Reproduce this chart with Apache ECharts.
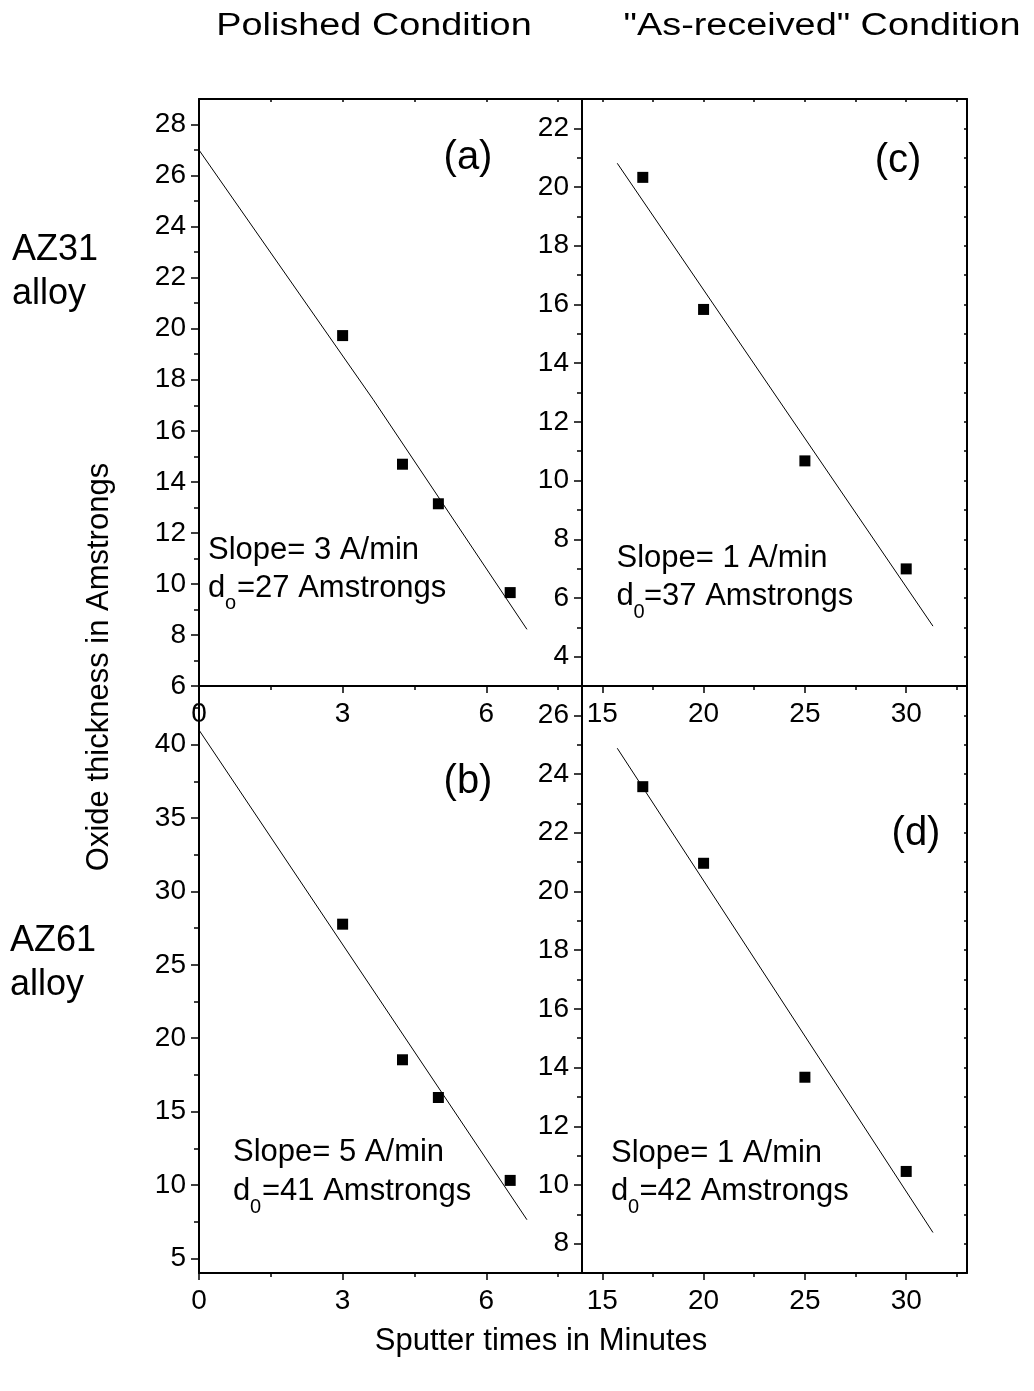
<!DOCTYPE html>
<html>
<head>
<meta charset="utf-8">
<script src="https://cdn.jsdelivr.net/npm/echarts@6/dist/echarts.min.js"></script>
<style>
  html, body { margin: 0; padding: 0; background: #fff; }
  #chart { width: 1034px; height: 1391px; }
</style>
</head>
<body>
<div id="chart"></div>
<script>
// polished samples (a: AZ31, b: AZ61)
var timesPolished = [3, 4.25, 5, 6.5];
var oxideAZ31Polished = [19.73, 14.69, 13.14, 9.66];
var oxideAZ61Polished = [27.77, 18.53, 15.96, 10.31];
// as-received samples (c: AZ31, d: AZ61)
var timesReceived = [17, 20, 25, 30];
var oxideAZ31Received = [20.33, 15.83, 10.67, 6.99];
var oxideAZ61Received = [23.57, 20.96, 13.67, 10.46];

// fitted lines
var fitTimesA = [0, 3.64, 6.85];
var fitOxideA = [27.0, 17.22, 8.22];
var fitTimesB = [0, 6.85];
var fitOxideB = [41.0, 7.63];
var fitTimesC = [15.74, 31.32];
var fitOxideC = [20.81, 5.04];
var fitTimesD = [15.74, 31.32];
var fitOxideD = [24.88, 8.38];

// tick labels
var ticksPolishedX = [0, 3, 6];
var minorPolishedX = [1.5, 4.5, 7.5];
var ticksReceivedX = [15, 20, 25, 30];
var minorReceivedX = [17.5, 22.5, 27.5, 32.5];
var ticksA = [6, 8, 10, 12, 14, 16, 18, 20, 22, 24, 26, 28];
var minorA = [7, 9, 11, 13, 15, 17, 19, 21, 23, 25, 27];
var ticksB = [5, 10, 15, 20, 25, 30, 35, 40];
var minorB = [7.5, 12.5, 17.5, 22.5, 27.5, 32.5, 37.5, 42.5];
var ticksC = [4, 6, 8, 10, 12, 14, 16, 18, 20, 22];
var minorC = [5, 7, 9, 11, 13, 15, 17, 19, 21];
var ticksD = [8, 10, 12, 14, 16, 18, 20, 22, 24, 26];
var minorD = [9, 11, 13, 15, 17, 19, 21, 23, 25];

var FONT = '"Liberation Sans", Arial, Helvetica, sans-serif';

function zip(xs, ys) {
    return xs.map(function (x, i) { return [x, ys[i]]; });
}

function axis(gridIndex, min, max, position, showLine, labelVals, tickVals, tickLen, inside) {
    return {
        type: 'value', gridIndex: gridIndex, min: min, max: max, position: position,
        splitLine: {show: false},
        axisLine: {show: showLine, onZero: false, lineStyle: {color: '#000', width: 2}},
        axisTick: {show: tickVals.length > 0, inside: inside, length: tickLen,
            customValues: tickVals, lineStyle: {color: '#000', width: 1.5}},
        axisLabel: {show: labelVals.length > 0, customValues: labelVals, showMinLabel: true, showMaxLabel: true,
            margin: (position === 'bottom' ? 14 : 13), color: '#000', fontSize: 28, fontFamily: FONT},
        axisPointer: {show: false}
    };
}

var xAxes = [], yAxes = [];
function addX(a) { xAxes.push(a); return xAxes.length - 1; }
function addY(a) { yAxes.push(a); return yAxes.length - 1; }

function allTicks(a, b) { return a.concat(b).sort(function (p, q) { return p - q; }); }

// grid 0: (a), 1: (c), 2: (b), 3: (d)
var xa = addX(axis(0, 0, 8, 'bottom', true, ticksPolishedX, ticksPolishedX, 7, false));
addX(axis(0, 0, 8, 'bottom', false, [], minorPolishedX, 4, false));
addX(axis(0, 0, 8, 'top', true, [], allTicks(ticksPolishedX, minorPolishedX).filter(function (v) { return v > 0; }), 3, true));
var ya = addY(axis(0, 6, 29, 'left', true, ticksA, ticksA, 8, false));
addY(axis(0, 6, 29, 'left', false, [], minorA, 5, false));

var xc = addX(axis(1, 14, 33, 'bottom', true, ticksReceivedX, ticksReceivedX, 7, false));
addX(axis(1, 14, 33, 'bottom', false, [], minorReceivedX, 4, false));
addX(axis(1, 14, 33, 'top', true, [], allTicks(ticksReceivedX, minorReceivedX), 3, true));
var yc = addY(axis(1, 3, 23, 'left', true, ticksC, ticksC, 8, false));
addY(axis(1, 3, 23, 'left', false, [], minorC, 5, false));
addY(axis(1, 3, 23, 'right', true, [], allTicks(ticksC, minorC), 3, true));

var xb = addX(axis(2, 0, 8, 'bottom', true, ticksPolishedX, ticksPolishedX, 7, false));
addX(axis(2, 0, 8, 'bottom', false, [], minorPolishedX, 4, false));
var yb = addY(axis(2, 4, 44, 'left', true, ticksB, ticksB, 8, false));
addY(axis(2, 4, 44, 'left', false, [], minorB, 5, false));

var xd = addX(axis(3, 14, 33, 'bottom', true, ticksReceivedX, ticksReceivedX, 7, false));
addX(axis(3, 14, 33, 'bottom', false, [], minorReceivedX, 4, false));
var yd = addY(axis(3, 7, 27, 'left', true, ticksD, ticksD, 8, false));
addY(axis(3, 7, 27, 'left', false, [], minorD, 5, false));
addY(axis(3, 7, 27, 'right', true, [], allTicks(ticksD, minorD), 3, true));

function points(name, xi, yi, data) {
    return {name: name, type: 'scatter', xAxisIndex: xi, yAxisIndex: yi, data: data,
        symbol: 'rect', symbolSize: 11, itemStyle: {color: '#000', opacity: 1}, silent: true};
}
function fit(name, xi, yi, data) {
    return {name: name, type: 'line', xAxisIndex: xi, yAxisIndex: yi, data: data,
        showSymbol: false, symbol: 'none', lineStyle: {color: '#000', width: 1}, silent: true};
}

function txt(x, y, text, size, opts) {
    var o = opts || {};
    var el = {
        type: 'text', x: x, y: y, silent: true,
        style: {text: text, fontSize: size, fontFamily: FONT, fill: '#000',
            align: o.align || 'left', verticalAlign: 'middle',
            textAlign: o.align || 'left', textVerticalAlign: 'middle'}
    };
    if (o.scaleX) el.scaleX = o.scaleX;
    if (o.rotation) el.rotation = o.rotation;
    return el;
}

// slope annotation: two lines with a subscript on the d
function slopeNote(left, y1, y2, slope, sub, subX, subY, restX, rest) {
    return [
        txt(left, y1, slope, 31),
        txt(left, y2, 'd', 31),
        txt(subX, subY, sub, 20),
        txt(restX, y2, rest, 31)
    ];
}

var graphics = [
    txt(374, 26, 'Polished Condition', 31, {align: 'center', scaleX: 1.22}),
    txt(822, 26, '"As-received" Condition', 31, {align: 'center', scaleX: 1.22}),
    txt(12, 250, 'AZ31', 36),
    txt(12, 294, 'alloy', 36),
    txt(10, 941, 'AZ61', 36),
    txt(10, 985, 'alloy', 36),
    txt(99, 667, 'Oxide thickness in Amstrongs', 31, {align: 'center', rotation: Math.PI / 2}),
    txt(541, 1341, 'Sputter times in Minutes', 31, {align: 'center'}),
    txt(468, 158, '(a)', 40, {align: 'center'}),
    txt(468, 782, '(b)', 40, {align: 'center'}),
    txt(898, 161, '(c)', 40, {align: 'center'}),
    txt(916, 834, '(d)', 40, {align: 'center'})
]
    .concat(slopeNote(208, 550, 588.5, 'Slope= 3 A/min', 'o', 225, 603.5, 237, '=27 Amstrongs'))
    .concat(slopeNote(233, 1152.5, 1191, 'Slope= 5 A/min', '0', 250, 1207, 262, '=41 Amstrongs'))
    .concat(slopeNote(616.5, 558.5, 596.5, 'Slope= 1 A/min', '0', 633.5, 612.8, 644, '=37 Amstrongs'))
    .concat(slopeNote(611, 1153, 1191, 'Slope= 1 A/min', '0', 628, 1207, 639.5, '=42 Amstrongs'));

var chart = echarts.init(document.getElementById('chart'), null, {renderer: 'canvas'});
chart.setOption({
    backgroundColor: '#fff',
    animation: false,
    grid: [
        {left: 199, top: 99, width: 383, height: 587},
        {left: 582, top: 99, width: 385, height: 587},
        {left: 199, top: 686, width: 383, height: 587},
        {left: 582, top: 686, width: 385, height: 587}
    ],
    xAxis: xAxes,
    yAxis: yAxes,
    series: [
        fit('AZ31 polished fit', xa, ya, zip(fitTimesA, fitOxideA)),
        points('AZ31 polished', xa, ya, zip(timesPolished, oxideAZ31Polished)),
        fit('AZ31 as-received fit', xc, yc, zip(fitTimesC, fitOxideC)),
        points('AZ31 as-received', xc, yc, zip(timesReceived, oxideAZ31Received)),
        fit('AZ61 polished fit', xb, yb, zip(fitTimesB, fitOxideB)),
        points('AZ61 polished', xb, yb, zip(timesPolished, oxideAZ61Polished)),
        fit('AZ61 as-received fit', xd, yd, zip(fitTimesD, fitOxideD)),
        points('AZ61 as-received', xd, yd, zip(timesReceived, oxideAZ61Received))
    ],
    graphic: graphics
});
</script>
</body>
</html>
